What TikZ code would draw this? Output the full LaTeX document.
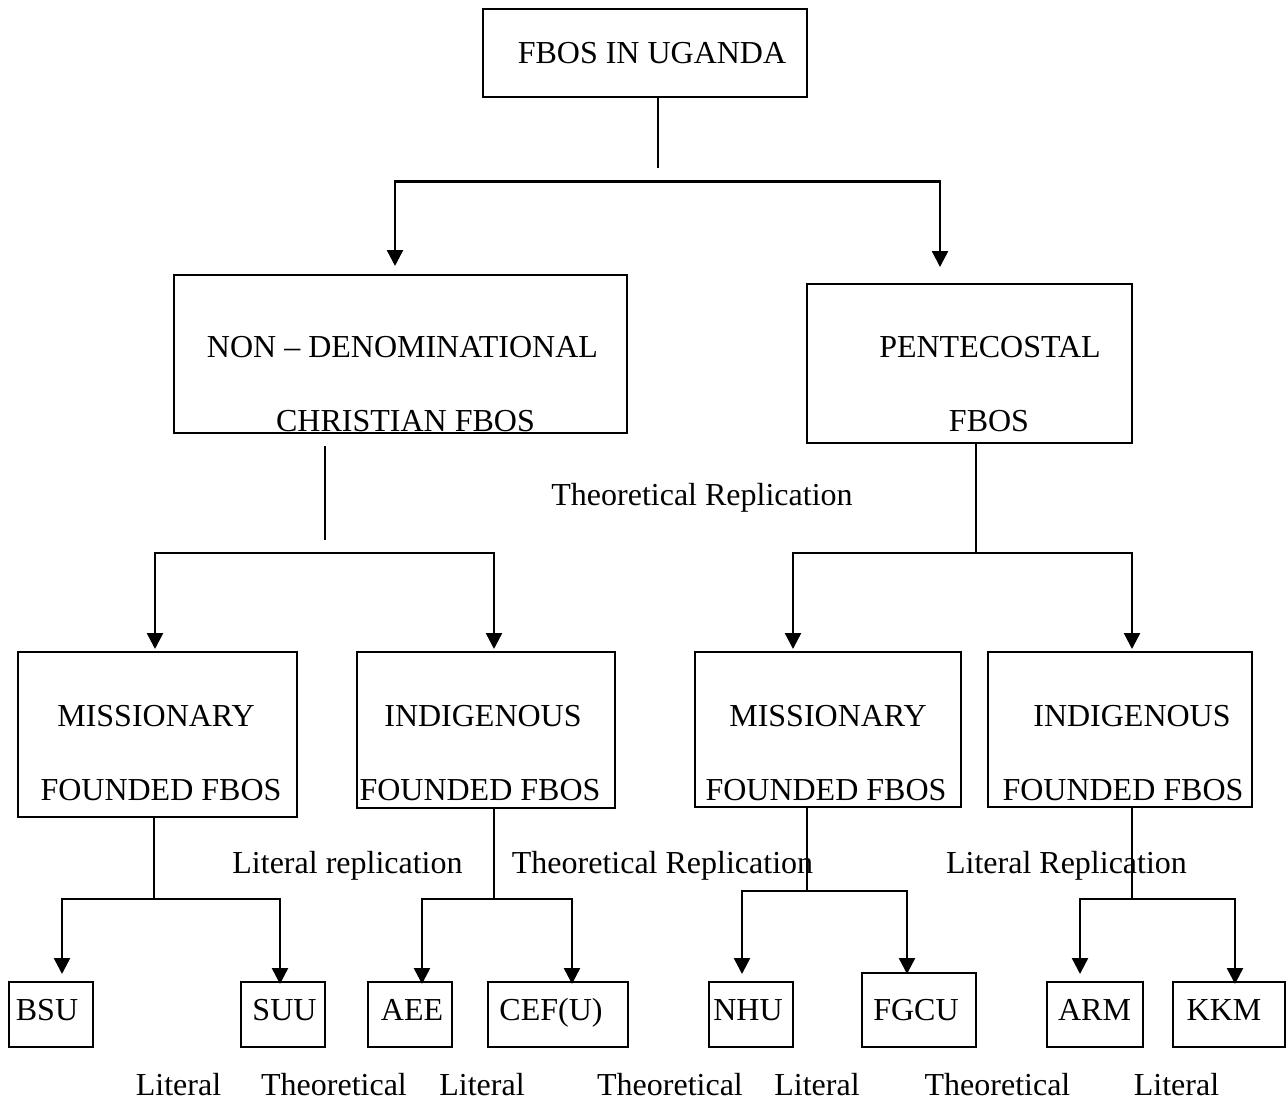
\documentclass[tikz,border=0pt]{standalone}
\usepackage{fontspec}
\setmainfont{Liberation Serif}
\usetikzlibrary{arrows.meta}

\tikzset{
    box/.style={draw, line width=1pt, inner sep=0pt},
    lbl/.style={anchor=base, inner sep=0pt, font=\fontsize{16}{19}\selectfont},
    stem/.style={line width=0.7pt},
    bar/.style={line width=1.2pt, line cap=rect},
    branch/.style={line width=1.2pt, -{Triangle[length=8pt,width=8pt]}},
}

\begin{document}
\begin{tikzpicture}[x=0.5pt, y=-0.5pt]

    \useasboundingbox (0,0) rectangle (1286,1100);

    % Boxes
    \foreach \n/\cx/\cy/\w/\h in {top/645/53/324/88, ndc/400.5/354/453/158, pent/969.5/363.5/325/159,
        misA/157.5/734.5/279/165, indA/486/730/258/156, misB/828/729.5/266/155, indB/1120/729.5/264/155,
        bsu/51/1014.5/84/65, suu/283/1014.5/84/65, aee/410/1014.5/84/65, cef/558/1014.5/140/65,
        nhu/751/1014.5/84/65, fgcu/919/1010/114/74, arm/1095/1014.5/96/65, kkm/1229/1014.5/112/65}
        {
            \node[box, minimum width=\w*0.5pt, minimum height=\h*0.5pt] (\n) at (\cx,\cy) {};
        }

    % Texts
    \foreach \n/\x/\y/\t in {top/652/63/FBOS IN UGANDA,
        ndcA/402.5/357/NON – DENOMINATIONAL, ndcB/405.5/431.5/CHRISTIAN FBOS,
        pentA/990/357/PENTECOSTAL, pentB/989/431.5/FBOS,
        repA/702/505/Theoretical Replication,
        misAa/156/726/MISSIONARY, misAb/161/800/FOUNDED FBOS,
        indAa/483/726/INDIGENOUS, indAb/480/800/FOUNDED FBOS,
        misBa/828/726/MISSIONARY, misBb/826/800/FOUNDED FBOS,
        indBa/1132/726/INDIGENOUS, indBb/1123/800/FOUNDED FBOS,
        repB/347.5/873/Literal replication, repC/662.5/873/Theoretical Replication,
        repD/1066.5/873/Literal Replication,
        bsu/47/1020/BSU, suu/284.5/1020/SUU, aee/412/1020/AEE, cef/551/1020/CEF(U),
        nhu/748/1020/NHU, fgcu/916/1020/FGCU, arm/1094.5/1020/ARM, kkm/1224/1020/KKM}
        {
            \node[lbl] (t-\n) at (\x,\y) {\t};
        }

    % Bottom labels
    \foreach \x/\t [count=\i] in {178.5/Literal, 334/Theoretical, 482/Literal, 670/Theoretical,
        817/Literal, 997.5/Theoretical, 1176.5/Literal}
        {
            \node[lbl] (b\i) at (\x,1095) {\t};
        }

    % Level 1
    \coordinate (s0) at (658,168);
    \coordinate (h0l) at (395,181.5);
    \coordinate (h0r) at (940,181.5);
    \draw[line width=0.6pt] (top.south -| s0) -- (s0);
    \draw[bar] (h0l) -- (h0r);
    \draw[branch, shorten >=4pt] (h0l) -- (h0l |- ndc.north);
    \draw[branch, shorten >=8pt] (h0r) -- (h0r |- pent.north);

    % Level 2
    \coordinate (s1) at (325,540);
    \coordinate (h1l) at (155,553);
    \coordinate (h1r) at (494,553);
    \draw[stem] ([yshift=-6pt]ndc.south -| s1) -- (s1);
    \draw[bar] (h1l) -- (h1r);
    \coordinate (s2) at (976,553);
    \coordinate (h2l) at (793,553);
    \coordinate (h2r) at (1132,553);
    \draw[stem] (pent.south -| s2) -- (s2);
    \draw[bar] (h2l) -- (h2r);
    \foreach \c/\b in {h1l/misA, h1r/indA, h2l/misB, h2r/indB}
        \draw[branch, shorten >=1pt] (\c) -- (\c |- \b.north);

    % Level 3
    \foreach \b/\sx/\sy/\l/\r in {misA/154/899/62/280, indA/494/899/422/572,
        misB/807/891/742/907, indB/1132/899/1080/1235}
        {
            \coordinate (s-\b) at (\sx,\sy);
            \coordinate (l-\b) at (\l,\sy);
            \coordinate (r-\b) at (\r,\sy);
            \draw[stem] (\b.south -| s-\b) -- (s-\b);
            \draw[bar] (l-\b) -- (r-\b);
        }
    \foreach \c/\b/\s in {l-misA/bsu/3.5, r-misA/suu/-1.5, l-indA/aee/-1.5, r-indA/cef/-1.5,
        l-misB/nhu/3.5, r-misB/fgcu/-1, l-indB/arm/3.5, r-indB/kkm/-1.5}
        \draw[branch, shorten >=\s pt] (\c) -- (\c |- \b.north);

\end{tikzpicture}
\end{document}
